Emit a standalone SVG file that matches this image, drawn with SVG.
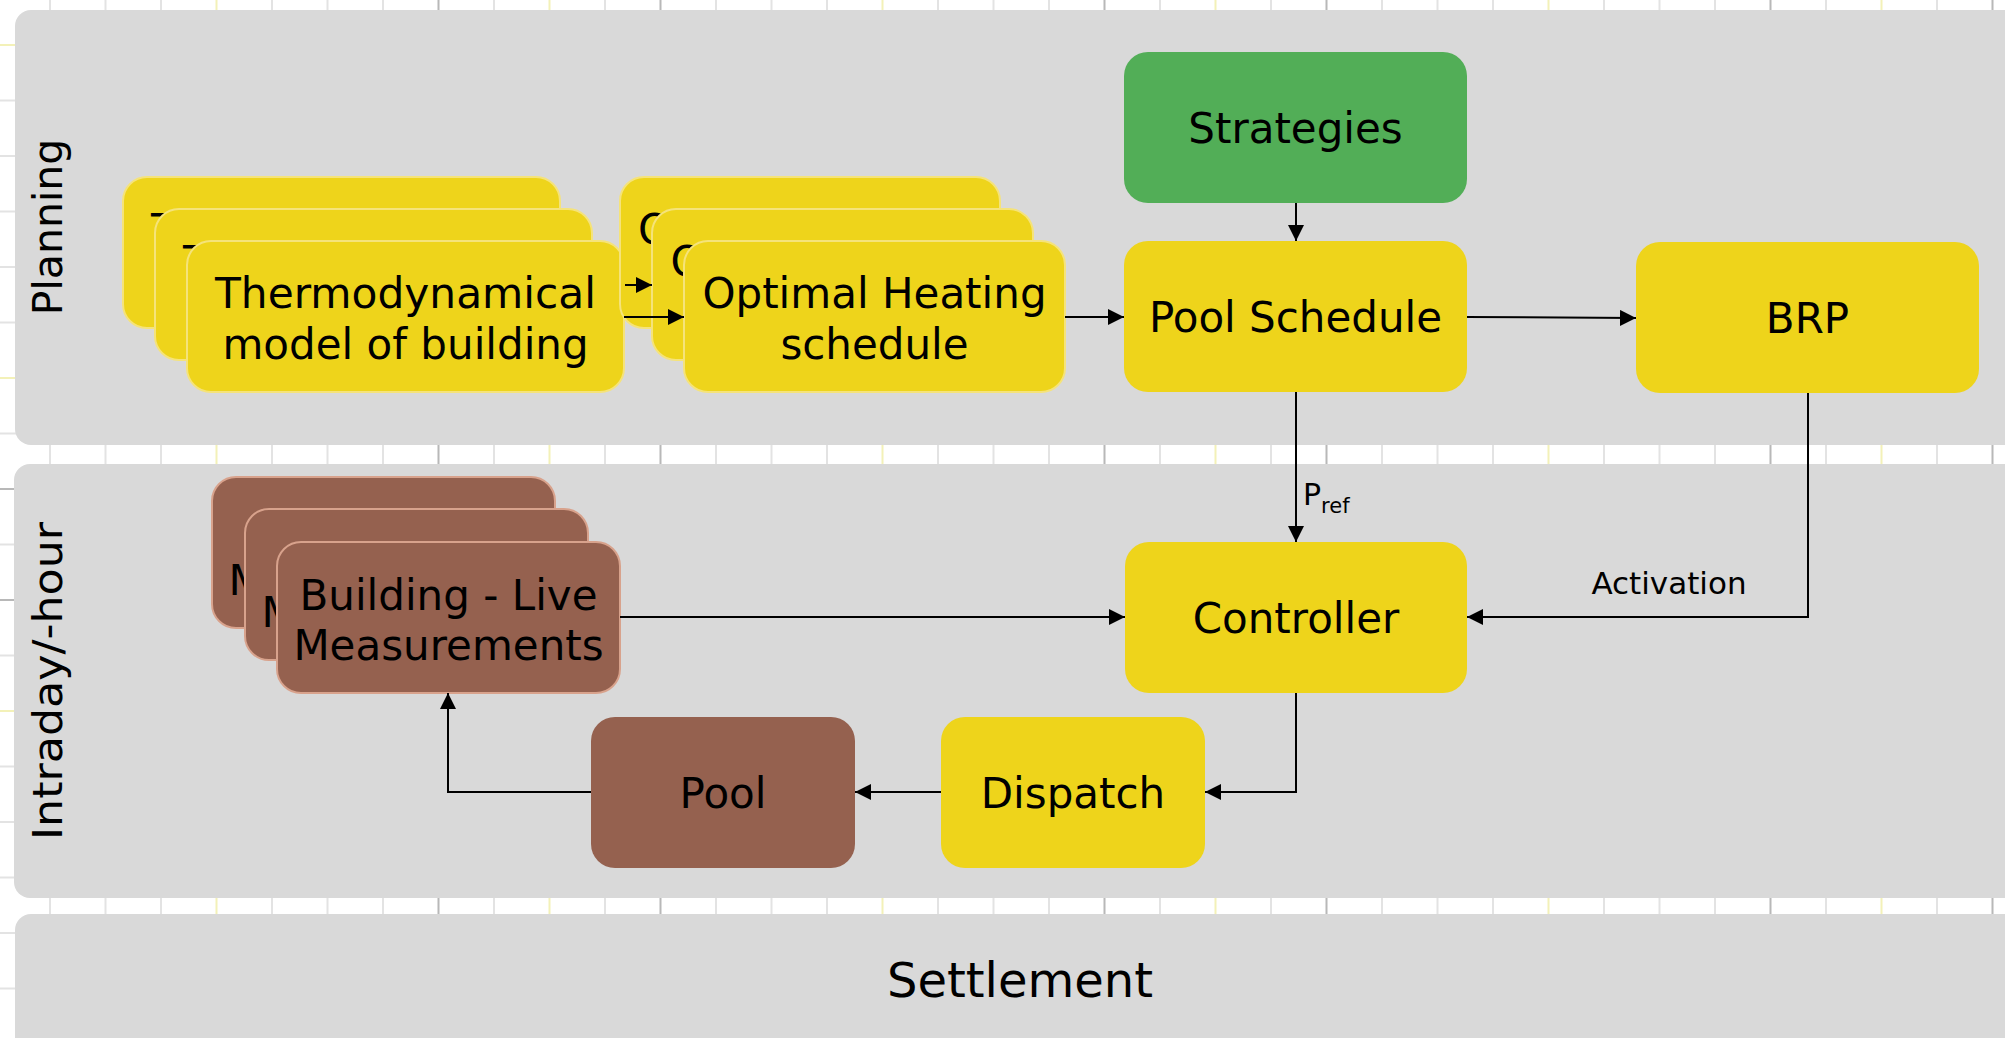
<svg xmlns="http://www.w3.org/2000/svg" width="2005" height="1038" viewBox="0 0 2005 1038">
<style>
  .grid { stroke: #e3e3e3; stroke-width: 2; }
  .gridy { stroke: #f3f1b8; stroke-width: 2; }
  .gridd { stroke: #b8b8b8; stroke-width: 2; }
  .panel { fill: #d9d9d9; }
  .lane { font-family: "DejaVu Sans", "Verdana", sans-serif; font-size: 41px; fill: #000; }
  .yel { fill: #eed41b; }
  .yels { fill: #eed41b; stroke: #f5e37a; stroke-width: 2; }
  .grn { fill: #52ae57; }
  .brn { fill: #95614f; }
  .brns { fill: #95614f; stroke: #d8a28c; stroke-width: 2; }
  .t { font-family: "DejaVu Sans", "Verdana", sans-serif; font-size: 42px; fill: #000; text-anchor: middle; }
  .lbl { font-family: "DejaVu Sans", "Verdana", sans-serif; fill: #000; }
  .conn { fill: none; stroke: #000; stroke-width: 2; }
</style>
<defs>
  <marker id="arr" viewBox="0 0 16 16" refX="16" refY="8" markerWidth="16" markerHeight="16" markerUnits="userSpaceOnUse" orient="auto">
    <path d="M0,0 L16,8 L0,16 Z" fill="#000"/>
  </marker>
</defs>
<rect x="0" y="0" width="2005" height="1038" fill="#ffffff"/>
<g id="grid">
  <line class="grid" x1="50" y1="0" x2="50" y2="1038"/>
  <line class="grid" x1="105.5" y1="0" x2="105.5" y2="1038"/>
  <line class="grid" x1="161" y1="0" x2="161" y2="1038"/>
  <line class="gridy" x1="216.5" y1="0" x2="216.5" y2="1038"/>
  <line class="grid" x1="272" y1="0" x2="272" y2="1038"/>
  <line class="grid" x1="327.5" y1="0" x2="327.5" y2="1038"/>
  <line class="grid" x1="383" y1="0" x2="383" y2="1038"/>
  <line class="gridd" x1="438.5" y1="0" x2="438.5" y2="1038"/>
  <line class="grid" x1="494" y1="0" x2="494" y2="1038"/>
  <line class="gridy" x1="549.5" y1="0" x2="549.5" y2="1038"/>
  <line class="grid" x1="605" y1="0" x2="605" y2="1038"/>
  <line class="gridd" x1="660.5" y1="0" x2="660.5" y2="1038"/>
  <line class="grid" x1="716" y1="0" x2="716" y2="1038"/>
  <line class="grid" x1="771.5" y1="0" x2="771.5" y2="1038"/>
  <line class="grid" x1="827" y1="0" x2="827" y2="1038"/>
  <line class="gridy" x1="882.5" y1="0" x2="882.5" y2="1038"/>
  <line class="grid" x1="938" y1="0" x2="938" y2="1038"/>
  <line class="grid" x1="993.5" y1="0" x2="993.5" y2="1038"/>
  <line class="grid" x1="1049" y1="0" x2="1049" y2="1038"/>
  <line class="gridd" x1="1104.5" y1="0" x2="1104.5" y2="1038"/>
  <line class="grid" x1="1160" y1="0" x2="1160" y2="1038"/>
  <line class="gridy" x1="1215.5" y1="0" x2="1215.5" y2="1038"/>
  <line class="grid" x1="1271" y1="0" x2="1271" y2="1038"/>
  <line class="gridd" x1="1326.5" y1="0" x2="1326.5" y2="1038"/>
  <line class="grid" x1="1382" y1="0" x2="1382" y2="1038"/>
  <line class="grid" x1="1437.5" y1="0" x2="1437.5" y2="1038"/>
  <line class="grid" x1="1493" y1="0" x2="1493" y2="1038"/>
  <line class="gridy" x1="1548.5" y1="0" x2="1548.5" y2="1038"/>
  <line class="grid" x1="1604" y1="0" x2="1604" y2="1038"/>
  <line class="grid" x1="1659.5" y1="0" x2="1659.5" y2="1038"/>
  <line class="grid" x1="1715" y1="0" x2="1715" y2="1038"/>
  <line class="gridd" x1="1770.5" y1="0" x2="1770.5" y2="1038"/>
  <line class="grid" x1="1826" y1="0" x2="1826" y2="1038"/>
  <line class="gridy" x1="1881.5" y1="0" x2="1881.5" y2="1038"/>
  <line class="grid" x1="1937" y1="0" x2="1937" y2="1038"/>
  <line class="gridd" x1="1992.5" y1="0" x2="1992.5" y2="1038"/>
  <line class="gridy" x1="0" y1="45" x2="2005" y2="45"/>
  <line class="grid" x1="0" y1="100.5" x2="2005" y2="100.5"/>
  <line class="grid" x1="0" y1="156" x2="2005" y2="156"/>
  <line class="grid" x1="0" y1="211.5" x2="2005" y2="211.5"/>
  <line class="grid" x1="0" y1="267" x2="2005" y2="267"/>
  <line class="grid" x1="0" y1="322.5" x2="2005" y2="322.5"/>
  <line class="gridy" x1="0" y1="378" x2="2005" y2="378"/>
  <line class="grid" x1="0" y1="433.5" x2="2005" y2="433.5"/>
  <line class="gridd" x1="0" y1="489" x2="2005" y2="489"/>
  <line class="grid" x1="0" y1="544.5" x2="2005" y2="544.5"/>
  <line class="gridd" x1="0" y1="600" x2="2005" y2="600"/>
  <line class="grid" x1="0" y1="655.5" x2="2005" y2="655.5"/>
  <line class="gridy" x1="0" y1="711" x2="2005" y2="711"/>
  <line class="grid" x1="0" y1="766.5" x2="2005" y2="766.5"/>
  <line class="grid" x1="0" y1="822" x2="2005" y2="822"/>
  <line class="grid" x1="0" y1="877.5" x2="2005" y2="877.5"/>
  <line class="grid" x1="0" y1="933" x2="2005" y2="933"/>
  <line class="grid" x1="0" y1="988.5" x2="2005" y2="988.5"/>
</g>
<g id="lane-planning">
  <rect class="panel" x="15" y="10" width="2020" height="435" rx="16"/>
  <text class="lane" transform="translate(62,227) rotate(-90)" text-anchor="middle">Planning</text>
</g>
<g id="lane-intraday">
  <rect class="panel" x="14" y="464" width="2020" height="434" rx="16"/>
  <text class="lane" font-size="42" transform="translate(62,681) rotate(-90)" text-anchor="middle" textLength="318" lengthAdjust="spacingAndGlyphs">Intraday/-hour</text>
</g>
<g id="lane-settlement">
  <rect class="panel" x="15" y="914" width="2020" height="160" rx="16"/>
  <text class="lbl" x="1020" y="997" font-size="48" text-anchor="middle">Settlement</text>
</g>
<g id="thermo-3">
  <rect class="yels" x="123" y="177" width="437" height="151" rx="24"/>
  <text class="t" x="341.5" y="244" textLength="381" lengthAdjust="spacingAndGlyphs">Thermodynamical</text>
  <text class="t" x="341.5" y="295">model of building</text>
</g>
<g id="thermo-2">
  <rect class="yels" x="155" y="209" width="437" height="151" rx="24"/>
  <text class="t" x="373.5" y="276" textLength="381" lengthAdjust="spacingAndGlyphs">Thermodynamical</text>
  <text class="t" x="373.5" y="327">model of building</text>
</g>
<g id="thermo-1">
  <rect class="yels" x="187" y="241" width="437" height="151" rx="24"/>
  <text class="t" x="405.5" y="308" textLength="381" lengthAdjust="spacingAndGlyphs">Thermodynamical</text>
  <text class="t" x="405.5" y="359">model of building</text>
</g>
<g id="optimal-3">
  <rect class="yels" x="620" y="177" width="380" height="151" rx="24"/>
  <text class="t" x="810" y="244">Optimal Heating</text>
  <text class="t" x="810" y="295">schedule</text>
</g>
<g id="optimal-2">
  <rect class="yels" x="652" y="209" width="381" height="151" rx="24"/>
  <text class="t" x="842.5" y="276">Optimal Heating</text>
  <text class="t" x="842.5" y="327">schedule</text>
</g>
<g id="optimal-1">
  <rect class="yels" x="684" y="241" width="381" height="151" rx="24"/>
  <text class="t" x="874.5" y="308">Optimal Heating</text>
  <text class="t" x="874.5" y="359">schedule</text>
</g>
<g id="strategies">
  <rect class="grn" x="1124" y="52" width="343" height="151" rx="24"/>
  <text class="t" x="1295.5" y="143">Strategies</text>
</g>
<g id="pool-schedule">
  <rect class="yel" x="1124" y="241" width="343" height="151" rx="24"/>
  <text class="t" x="1295.5" y="332">Pool Schedule</text>
</g>
<g id="brp">
  <rect class="yel" x="1636" y="242" width="343" height="151" rx="24"/>
  <text class="t" x="1807.5" y="333">BRP</text>
</g>
<g id="controller">
  <rect class="yel" x="1125" y="542" width="342" height="151" rx="24"/>
  <text class="t" x="1296" y="633">Controller</text>
</g>
<g id="building-3">
  <rect class="brns" x="212" y="477" width="343" height="151" rx="24"/>
  <text class="t" x="383.5" y="595">Measurements</text>
</g>
<g id="building-2">
  <rect class="brns" x="245" y="509" width="343" height="151" rx="24"/>
  <text class="t" x="416.5" y="627">Measurements</text>
</g>
<g id="building-1">
  <rect class="brns" x="277" y="542" width="343" height="151" rx="24"/>
  <text class="t" x="448.5" y="610">Building - Live</text>
  <text class="t" x="448.5" y="660">Measurements</text>
</g>
<g id="pool">
  <rect class="brn" x="591" y="717" width="264" height="151" rx="24"/>
  <text class="t" x="723" y="808">Pool</text>
</g>
<g id="dispatch">
  <rect class="yel" x="941" y="717" width="264" height="151" rx="24"/>
  <text class="t" x="1073" y="808">Dispatch</text>
</g>
<g id="connectors">
  <path class="conn" d="M625,285 L652,285" marker-end="url(#arr)"/>
  <path class="conn" d="M624,317 L684,317" marker-end="url(#arr)"/>
  <path class="conn" d="M1065,317 L1124,317" marker-end="url(#arr)"/>
  <path class="conn" d="M1296,203 L1296,241" marker-end="url(#arr)"/>
  <path class="conn" d="M1467,317 L1636,318" marker-end="url(#arr)"/>
  <path class="conn" d="M1296,392 L1296,542" marker-end="url(#arr)"/>
  <path class="conn" d="M1808,393 L1808,617 L1467,617" marker-end="url(#arr)"/>
  <path class="conn" d="M620,617 L1125,617" marker-end="url(#arr)"/>
  <path class="conn" d="M1296,693 L1296,792 L1205,792" marker-end="url(#arr)"/>
  <path class="conn" d="M941,792 L855,792" marker-end="url(#arr)"/>
  <path class="conn" d="M591,792 L448,792 L448,693" marker-end="url(#arr)"/>
  <text class="lbl" x="1303" y="505" font-size="30">P<tspan font-size="21" y="513">ref</tspan></text>
  <text class="lbl" x="1669" y="594" font-size="31" text-anchor="middle">Activation</text>
</g>
</svg>
